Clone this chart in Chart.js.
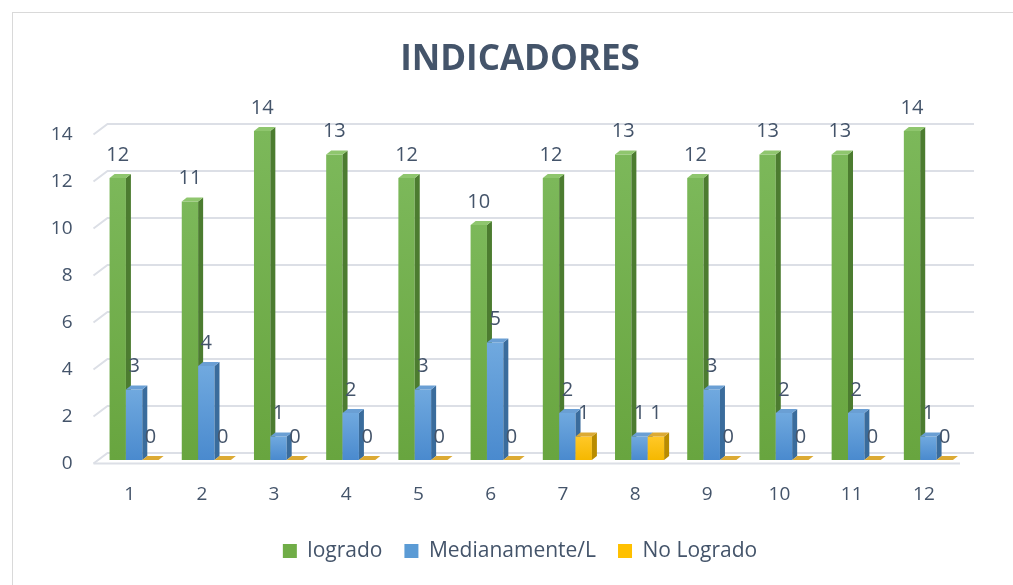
<!DOCTYPE html>
<html>
<head>
<meta charset="utf-8">
<title>INDICADORES</title>
<script src="https://cdn.jsdelivr.net/npm/chart.js@4.4.1/dist/chart.umd.min.js"></script>
<style>
    html, body { margin: 0; padding: 0; background: #fff; overflow: hidden; }
    #frame { position: absolute; left: 12px; top: 12px; width: 1100px; height: 700px; border: 1px solid #d9d9d9; box-sizing: border-box; }
    #wrap  { position: absolute; left: 0; top: 0; width: 1040px; height: 585px; }
</style>
</head>
<body>
<div id="frame"></div>
<div id="wrap"><canvas id="chart" width="1040" height="585"></canvas></div>
<script>
// Data
const categories   = ["1", "2", "3", "4", "5", "6", "7", "8", "9", "10", "11", "12"];
const logrado      = [12, 11, 14, 13, 12, 10, 12, 13, 12, 13, 13, 14];
const medianamente = [3, 4, 1, 2, 3, 5, 2, 1, 3, 2, 2, 1];
const noLogrado    = [0, 0, 0, 0, 0, 0, 1, 1, 0, 0, 0, 0];
const seriesNames  = ["logrado", "Medianamente/L", "No Logrado"];
const yTicks       = [0, 2, 4, 6, 8, 10, 12, 14];

// Styles
const textColor = "#44546a";
const fontName  = "'Open Sans', 'DejaVu Sans', sans-serif";
const faces = [
    { hi: "#7cb85a", lo: "#68a53f", side: "#4c7c30", top: "#8fc66e" },
    { hi: "#70a9df", lo: "#4a8ace", side: "#3a6c9c", top: "#6a9fd4" },
    { hi: "#ffc828", lo: "#f5b800", side: "#b98c00", top: "#dcaa34" }
];

// 3D look: bars sit a bit behind the front plane, walls further back
const SHIFT_X = 4.5, SHIFT_Y = -3.5;
const DEPTH_X = 5,   DEPTH_Y = 4;
const WALL_X  = 14,  WALL_Y  = 10.5;

function drawGrid(chart) {
    const { ctx, chartArea, scales } = chart;
    const y = scales.y;
    ctx.save();
    ctx.strokeStyle = "#dcdfe6";
    ctx.lineWidth = 2;
    yTicks.forEach((v) => {
        const py = y.getPixelForValue(v);
        ctx.beginPath();
        ctx.moveTo(chartArea.left, py);
        ctx.lineTo(chartArea.left + WALL_X, py - WALL_Y);
        ctx.lineTo(chartArea.right + WALL_X, py - WALL_Y);
        ctx.stroke();
    });
    // floor front edge
    const p0 = y.getPixelForValue(yTicks[0]);
    ctx.beginPath();
    ctx.moveTo(chartArea.left, p0);
    ctx.lineTo(chartArea.right, p0);
    ctx.stroke();
    ctx.restore();
}

function barBox(el) {
    const p = el.getProps(["x", "y", "base", "width"], true);
    return {
        left  : p.x - p.width / 2 + SHIFT_X,
        right : p.x + p.width / 2 + SHIFT_X,
        top   : Math.min(p.y, p.base) + SHIFT_Y,
        bottom: Math.max(p.y, p.base) + SHIFT_Y,
        cx    : p.x + SHIFT_X
    };
}

function poly(ctx, pts, color) {
    ctx.beginPath();
    ctx.moveTo(pts[0][0], pts[0][1]);
    for (let k = 1; k < pts.length; k++) ctx.lineTo(pts[k][0], pts[k][1]);
    ctx.closePath();
    ctx.fillStyle = color;
    ctx.fill();
}

function drawBars(chart) {
    const ctx = chart.ctx;
    const n = chart.data.labels.length;
    ctx.save();
    for (let j = 0; j < n; j++) {
        chart.data.datasets.forEach((ds, i) => {
            const el = chart.getDatasetMeta(i).data[j];
            if (!el) return;
            const b = barBox(el);
            const f = faces[i];
            if (b.bottom - b.top > 0.5) {
                const g = ctx.createLinearGradient(0, b.top, 0, b.bottom);
                g.addColorStop(0, f.hi);
                g.addColorStop(1, f.lo);
                ctx.fillStyle = g;
                ctx.fillRect(b.left, b.top, b.right - b.left, b.bottom - b.top);
                poly(ctx, [[b.right, b.top], [b.right + DEPTH_X, b.top - DEPTH_Y],
                           [b.right + DEPTH_X, b.bottom - DEPTH_Y], [b.right, b.bottom]], f.side);
            }
            poly(ctx, [[b.left, b.top], [b.left + DEPTH_X, b.top - DEPTH_Y],
                       [b.right + DEPTH_X, b.top - DEPTH_Y], [b.right, b.top]], f.top);
        });
    }
    ctx.restore();
}

function drawLabels(chart) {
    const ctx = chart.ctx;
    ctx.save();
    ctx.font = "20px " + fontName;
    ctx.fillStyle = textColor;
    ctx.textAlign = "center";
    ctx.textBaseline = "middle";
    chart.data.datasets.forEach((ds, i) => {
        chart.getDatasetMeta(i).data.forEach((el, j) => {
            const b = barBox(el);
            ctx.fillText(String(ds.data[j]), b.cx, b.top - 23);
        });
    });
    ctx.restore();
}

const depthPlugin = {
    id: "depth3d",
    beforeDatasetsDraw(chart) {
        drawGrid(chart);
        drawBars(chart);
        drawLabels(chart);
        return false;
    }
};

const ctx = document.getElementById("chart");

new Chart(ctx, {
    type: "bar",
    data: {
        labels: categories,
        datasets: [
            { label: seriesNames[0], data: logrado,      backgroundColor: "#70ad47", borderWidth: 0 },
            { label: seriesNames[1], data: medianamente, backgroundColor: "#5b9bd5", borderWidth: 0 },
            { label: seriesNames[2], data: noLogrado,    backgroundColor: "#ffc000", borderWidth: 0 }
        ]
    },
    options: {
        responsive: false,
        animation: false,
        events: [],
        datasets: { bar: { categoryPercentage: 0.68, barPercentage: 1.0 } },
        layout: { padding: { left: 0, right: 0, top: 0, bottom: 13.5 } },
        scales: {
            x: {
                grid: { display: false, drawTicks: false },
                border: { display: false },
                ticks: { color: textColor, font: { family: fontName, size: 19 }, padding: 20 },
                afterFit: (s) => { s.height = 55; }
            },
            y: {
                min: yTicks[0],
                max: yTicks[yTicks.length - 1],
                grid: { display: false, drawTicks: false },
                border: { display: false },
                ticks: { stepSize: yTicks[1] - yTicks[0], color: textColor, font: { family: fontName, size: 19 }, padding: 21 },
                afterFit: (s) => { s.width = 93.5; }
            },
            // empty right-hand space (the 3D depth of the plot)
            yDepth: {
                position: "right",
                display: true,
                grid: { display: false },
                border: { display: false },
                ticks: { display: false },
                afterFit: (s) => { s.width = 80; }
            }
        },
        plugins: {
            title: {
                display: true,
                text: "INDICADORES",
                color: textColor,
                font: { family: fontName, size: 35, weight: "bold" },
                padding: { top: 39, bottom: 53.5 }
            },
            legend: {
                position: "bottom",
                labels: {
                    color: textColor,
                    font: { family: fontName, size: 21 },
                    boxWidth: 14,
                    boxHeight: 14,
                    padding: 22
                }
            },
            tooltip: { enabled: false }
        }
    },
    plugins: [depthPlugin]
});
</script>
</body>
</html>
